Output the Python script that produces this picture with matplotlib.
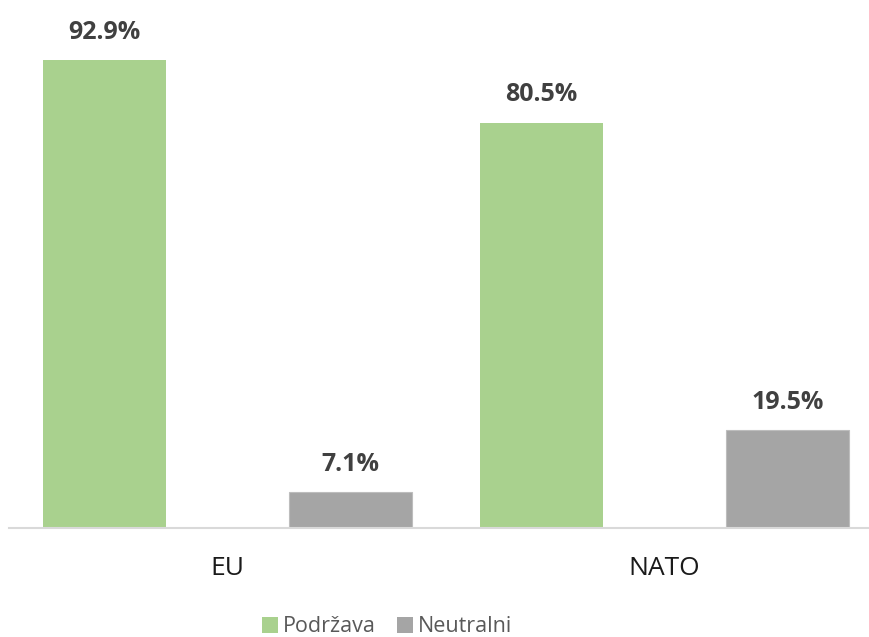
import matplotlib
matplotlib.use("Agg")
import matplotlib.pyplot as plt
from matplotlib.patches import Patch
import numpy as np

categories = ["EU", "NATO"]
series_names = ["Podržava", "Neutralni"]
podrzava = [92.9, 80.5]
neutralni = [7.1, 19.5]
colors = ["#A9D18E", "#A5A5A5"]

plt.rcParams['font.family'] = ['Open Sans', 'DejaVu Sans']

W, H = 869, 637
fig = plt.figure(figsize=(W / 100, H / 100), dpi=100)
left = 9 / W
width = 874 / W
bottom = (H - 528) / H
height = 503.5 / H
ax = fig.add_axes([left, bottom, width, height])

x = np.arange(len(categories))
bw = 0.281
off = 0.281
b1 = ax.bar(x - off, podrzava, bw, color=colors[0], zorder=2)
b2 = ax.bar(x + off, neutralni, bw, color=colors[1], edgecolor="#BDBDBD",
            linewidth=0.8, zorder=2)

for bars, vals in ((b1, podrzava), (b2, neutralni)):
    for rect, v in zip(bars, vals):
        ax.annotate(f"{v:.1f}%", (rect.get_x() + rect.get_width() / 2, v),
                    xytext=(0, 11), textcoords="offset points",
                    ha="center", va="bottom", fontsize=18, fontweight="bold",
                    color="#404040")

ax.set_xlim(-0.5, 1.5)
ax.set_ylim(0, 100)
for s in ("top", "right", "left"):
    ax.spines[s].set_visible(False)
ax.spines["bottom"].set_color("#D9D9D9")
ax.spines["bottom"].set_linewidth(1.5)
ax.set_yticks([])
ax.set_xticks(x)
ax.set_xticklabels(categories, fontsize=19, color="#1a1a1a")
ax.tick_params(axis="x", length=0, pad=20)

handles = [Patch(facecolor=colors[0], edgecolor="none"),
           Patch(facecolor=colors[1], edgecolor="none")]
fig.legend(handles, series_names, loc="center", bbox_to_anchor=(387 / W, 1 - 627 / H),
           ncol=2, frameon=False, fontsize=15.5, handlelength=0.75, handleheight=0.75,
           handletextpad=0.2, columnspacing=1.0, labelcolor="#595959")

fig.savefig("out.png", dpi=100)
